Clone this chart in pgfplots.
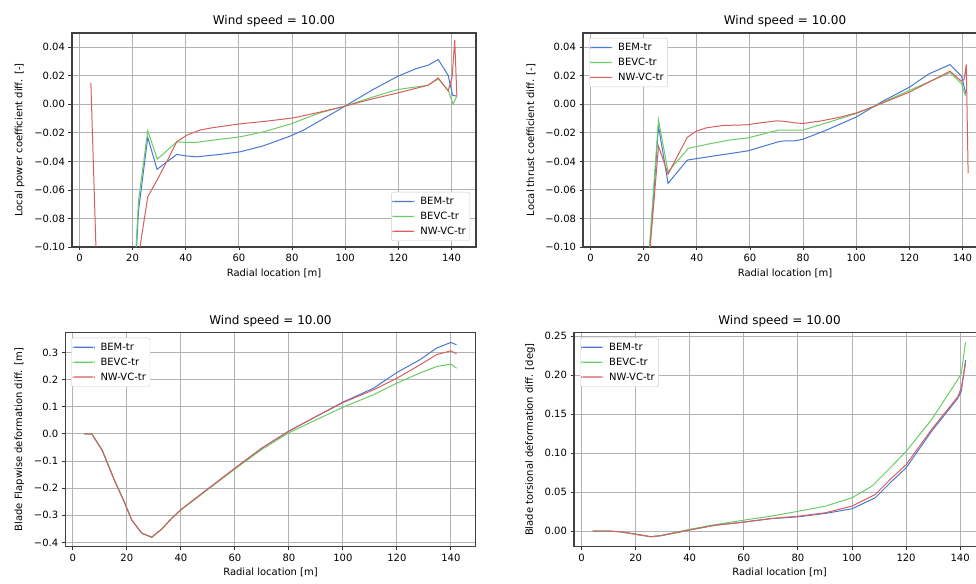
\documentclass[border=0pt]{standalone}
\usepackage{fontspec}
\setmainfont{DejaVu Sans}
\usepackage{pgfplots}
\pgfplotsset{compat=1.18}
\definecolor{cb}{HTML}{4878D0}
\definecolor{cg}{HTML}{6ACC64}
\definecolor{cr}{HTML}{D65F5F}
\pgfplotsset{
  legend image code/.code={\fill[#1, draw=none] (0pt,-0.6pt) rectangle (22pt,0.6pt);},
}
\pgfplotsset{
  myax/.style={
    scale only axis, height=214pt,
    xmin=-2.8, xmax=149.2,
    xtick={0,20,40,60,80,100,120,140},
    xticklabels={0,20,40,60,80,100,120,140},
    axis line style={black!75, line width=1.1pt},
    grid=major, major grid style={black!30, line width=0.9pt},
    tick align=outside, major tick length=3.5pt,
    tick style={black!80, line width=0.8pt},
    xtick pos=left, ytick pos=left,
    ticklabel style={font=\fontsize{10}{12}\selectfont},
    label style={font=\fontsize{10}{12}\selectfont},
    ylabel shift=3pt,
    title style={font=\fontsize{12}{14}\selectfont, yshift=-4pt},
    title={Wind speed = 10.00},
    xlabel={Radial location [m]},
    every axis plot/.append style={line width=1pt, no marks},
    legend cell align=left,
    legend style={draw=black!20, fill=white,
      rounded corners=2pt, font=\fontsize{10}{12}\selectfont,
      inner xsep=1pt, inner ysep=2pt,
      nodes={inner xsep=3pt, inner ysep=3pt},
      /tikz/every odd column/.append style={column sep=3pt}},
  },
  legNW/.style={legend style={at={(0,1)}, anchor=north west, xshift=6pt, yshift=-5pt}},
  legSE/.style={legend style={at={(1,0)}, anchor=south east, xshift=-6pt, yshift=6pt}},
}
\begin{document}
\begin{tikzpicture}
\path[use as bounding box] (0pt,0pt) rectangle (976pt,-583pt);
\clip (0pt,0pt) rectangle (976pt,-583pt);

% ---------------- top left: power ----------------
\begin{axis}[myax, legSE, at={(72pt,-33pt)}, anchor=north west, width=404pt,
  ymin=-0.10, ymax=0.05,
  ytick={-0.10,-0.08,-0.06,-0.04,-0.02,0,0.02,0.04},
  yticklabels={−0.10,−0.08,−0.06,−0.04,−0.02,0.00,0.02,0.04},
  ylabel={Local power coefficient diff. [-]}]
\addplot[cb] coordinates {(4.3,-0.3) (7.0,-0.3) (10.9,-0.3) (15.6,-0.3) (18.7,-0.2) (22.2,-0.075) (25.7,-0.0232) (29.2,-0.0456) (32.9,-0.0403) (36.6,-0.0351) (40.3,-0.0362) (44.1,-0.0368) (52.9,-0.0351) (60.4,-0.0333) (69.2,-0.0291) (79.2,-0.0223) (84.3,-0.0181) (90.4,-0.0116) (99.9,-0.0013) (110.5,0.0104) (119.8,0.0197) (126.8,0.0251) (131.2,0.0274) (135.0,0.0314) (138.7,0.0204) (140.4,0.0064) (142.0,0.0057)};
\addlegendentry{BEM-tr}
\addplot[cg] coordinates {(4.3,-0.3) (7.0,-0.3) (10.9,-0.3) (15.6,-0.3) (18.7,-0.193) (22.2,-0.068) (25.7,-0.0186) (29.3,-0.0384) (36.6,-0.0263) (40.1,-0.0267) (44.1,-0.0266) (52.9,-0.0245) (60.4,-0.0228) (69.2,-0.0193) (79.2,-0.0139) (90.4,-0.0060) (99.9,-0.0013) (110.5,0.0052) (119.8,0.0104) (131.2,0.0134) (135.0,0.0178) (138.7,0.0099) (140.6,0.0001) (142.0,0.0057)};
\addlegendentry{BEVC-tr}
\addplot[cr] coordinates {(4.3,0.015) (7.0,-0.148) (10.9,-0.25) (15.6,-0.25) (18.7,-0.18) (22.2,-0.107) (25.7,-0.0648) (29.2,-0.0531) (32.9,-0.0400) (36.6,-0.0263) (40.4,-0.0216) (45.4,-0.0180) (50.4,-0.0163) (60.4,-0.0137) (70.4,-0.0118) (80.5,-0.0095) (90.4,-0.0055) (99.9,-0.0013) (109.3,0.0034) (119.8,0.0080) (131.2,0.0134) (135.0,0.0185) (138.7,0.0095) (140.2,0.019) (141.2,0.045) (142.0,0.0057)};
\addlegendentry{NW-VC-tr}
\end{axis}

% ---------------- top right: thrust ----------------
\begin{axis}[myax, legNW, at={(583pt,-33pt)}, anchor=north west, width=404pt,
  ymin=-0.10, ymax=0.05,
  ytick={-0.10,-0.08,-0.06,-0.04,-0.02,0,0.02,0.04},
  yticklabels={−0.10,−0.08,−0.06,−0.04,−0.02,0.00,0.02,0.04},
  ylabel={Local thrust coefficient diff. [-]}]
\addplot[cb] coordinates {(4.3,-0.3) (7.0,-0.3) (10.9,-0.3) (15.6,-0.3) (18.7,-0.3) (22.2,-0.105) (25.6,-0.0153) (29.2,-0.0554) (36.4,-0.0391) (44.2,-0.0368) (52.5,-0.0345) (59.3,-0.0326) (70.6,-0.0263) (73.0,-0.0256) (76.9,-0.0256) (80.0,-0.0244) (88.1,-0.0186) (100.1,-0.0088) (109.5,0.0017) (120.2,0.0122) (127.1,0.0211) (135.3,0.0279) (139.6,0.0197) (141.3,0.0071)};
\addlegendentry{BEM-tr}
\addplot[cg] coordinates {(4.3,-0.3) (7.0,-0.3) (10.9,-0.3) (15.6,-0.3) (18.7,-0.3) (22.2,-0.100) (25.6,-0.0111) (29.2,-0.0473) (36.8,-0.0309) (44.2,-0.0279) (52.5,-0.0250) (59.3,-0.0235) (70.6,-0.0181) (73.0,-0.0180) (80.0,-0.0180) (88.1,-0.0134) (100.1,-0.0064) (107.6,-0.0006) (120.2,0.0099) (135.3,0.0222) (139.6,0.0146) (141.1,0.0057)};
\addlegendentry{BEVC-tr}
\addplot[cr] coordinates {(4.3,-0.3) (7.0,-0.3) (10.9,-0.3) (15.6,-0.3) (18.7,-0.3) (22.2,-0.106) (25.6,-0.0293) (29.2,-0.0489) (36.4,-0.0232) (39.8,-0.0188) (43.6,-0.0165) (50.0,-0.0148) (58.7,-0.0144) (63.7,-0.0130) (70.0,-0.0116) (72.5,-0.0118) (76.9,-0.0130) (80.0,-0.0134) (86.9,-0.0116) (94.4,-0.0088) (100.1,-0.0060) (107.0,-0.0013) (120.2,0.0087) (135.3,0.0232) (139.6,0.0162) (140.6,0.0175) (141.4,0.0279) (142.1,-0.0484)};
\addlegendentry{NW-VC-tr}
\end{axis}

% ---------------- bottom left: flapwise ----------------
\begin{axis}[myax, legNW, at={(65.3pt,-332.7pt)}, anchor=north west, width=410.4pt,
  ymin=-0.4158, ymax=0.3728,
  ytick={-0.4,-0.3,-0.2,-0.1,0,0.1,0.2,0.3},
  yticklabels={−0.4,−0.3,−0.2,−0.1,0.0,0.1,0.2,0.3},
  ylabel={Blade Flapwise deformation diff. [m]}]
\addplot[cb] coordinates {(4.3,0) (7.0,0) (10.9,-0.061) (15.6,-0.176) (18.7,-0.243) (21.8,-0.317) (25.5,-0.366) (29.2,-0.381) (32.9,-0.351) (36.6,-0.311) (40.3,-0.277) (47.1,-0.225) (60.1,-0.126) (69.9,-0.053) (79.8,0.009) (89.7,0.062) (100.0,0.117) (111.3,0.168) (120.0,0.226) (128.5,0.273) (134.7,0.316) (140.0,0.337) (142.1,0.328)};
\addlegendentry{BEM-tr}
\addplot[cg] coordinates {(4.3,0) (7.0,0) (10.9,-0.061) (15.6,-0.176) (18.7,-0.243) (21.8,-0.317) (25.5,-0.366) (29.2,-0.381) (32.9,-0.351) (36.6,-0.311) (40.3,-0.278) (47.1,-0.227) (60.1,-0.129) (69.9,-0.058) (79.8,0.003) (89.7,0.050) (100.0,0.098) (111.3,0.144) (120.0,0.187) (128.5,0.224) (134.7,0.248) (140.0,0.257) (142.1,0.242)};
\addlegendentry{BEVC-tr}
\addplot[cr] coordinates {(4.3,0) (7.0,0) (10.9,-0.061) (15.6,-0.176) (18.7,-0.243) (21.8,-0.317) (25.5,-0.366) (29.2,-0.381) (32.9,-0.351) (36.6,-0.311) (40.3,-0.277) (47.1,-0.225) (60.1,-0.126) (69.9,-0.053) (79.8,0.009) (89.7,0.062) (100.0,0.115) (111.3,0.162) (120.0,0.205) (128.5,0.254) (134.7,0.292) (140.0,0.306) (142.1,0.295)};
\addlegendentry{NW-VC-tr}
\end{axis}

% ---------------- bottom right: torsional ----------------
\begin{axis}[myax, legNW, at={(574pt,-332.7pt)}, anchor=north west, width=411pt,
  ymin=-0.0201, ymax=0.2542,
  ytick={0,0.05,0.10,0.15,0.20,0.25},
  yticklabels={0.00,0.05,0.10,0.15,0.20,0.25},
  ylabel={Blade torsional deformation diff. [deg]}]
\addplot[cb] coordinates {(4.1,0) (9.6,0) (14.5,-0.001) (19.4,-0.0038) (25.6,-0.0073) (29.3,-0.006) (34.3,-0.0026) (39.8,0.0013) (49.0,0.0072) (60.1,0.0115) (70.0,0.0158) (80.4,0.0183) (90.2,0.0226) (100.0,0.0285) (108.6,0.0426) (114.7,0.0638) (120.0,0.0809) (129.4,0.1277) (139.1,0.170) (140.4,0.1787) (142.0,0.219)};
\addlegendentry{BEM-tr}
\addplot[cg] coordinates {(4.1,0) (9.6,0) (14.5,-0.001) (19.4,-0.0038) (25.6,-0.0073) (29.3,-0.0058) (34.3,-0.002) (39.8,0.002) (49.0,0.008) (60.1,0.014) (70.0,0.019) (80.4,0.0255) (90.2,0.0319) (100.0,0.0426) (107.3,0.0574) (114.7,0.083) (120.0,0.102) (129.4,0.1426) (139.1,0.194) (140.4,0.202) (142.0,0.242)};
\addlegendentry{BEVC-tr}
\addplot[cr] coordinates {(4.1,0) (9.6,0) (14.5,-0.001) (19.4,-0.0038) (25.6,-0.0073) (29.3,-0.006) (34.3,-0.0026) (39.8,0.0013) (49.0,0.0072) (60.1,0.0115) (70.0,0.016) (80.4,0.0191) (90.2,0.0234) (100.0,0.0319) (108.6,0.0468) (114.7,0.068) (120.0,0.085) (129.4,0.130) (139.1,0.172) (140.4,0.183) (142.0,0.215)};
\addlegendentry{NW-VC-tr}
\end{axis}
\end{tikzpicture}
\end{document}
